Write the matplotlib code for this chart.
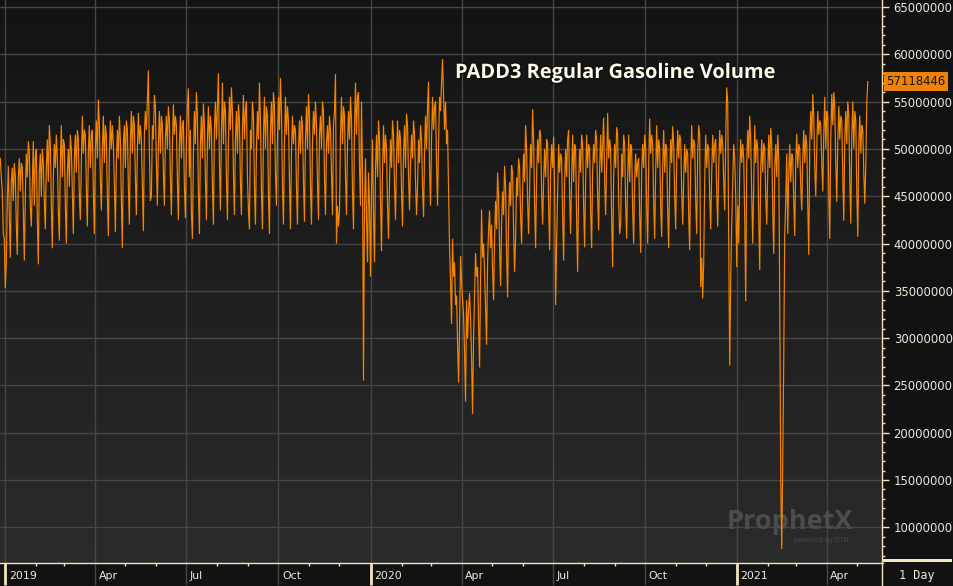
import numpy as np
import pandas as pd
import matplotlib
matplotlib.use("Agg")
import matplotlib.pyplot as plt
import matplotlib.dates as mdates
from matplotlib.ticker import MultipleLocator, FixedLocator, FixedFormatter
from matplotlib.transforms import ScaledTranslation, blended_transform_factory
from matplotlib.colors import LinearSegmentedColormap
import matplotlib.patheffects as pe
from matplotlib.lines import Line2D
from matplotlib.patches import Rectangle

# ---------------- data (daily volume, millions of gallons; one week Mon..Sun per row) ----
start_date = "2018-12-27"

vol_2019 = [
    49.0, 47.0, 45.5, 41.0,
    40.5, 35.3, 38.0, 44.5, 48.2, 43.0, 38.5,
    46.5, 48.0, 44.5, 48.5, 47.0, 42.0, 38.8,
    47.0, 49.0, 45.5, 48.5, 48.0, 43.5, 38.2,
    45.0, 49.5, 47.0, 50.8, 49.5, 44.0, 41.8,
    46.5, 50.8, 44.0, 49.0, 50.0, 42.5, 37.8,
    47.5, 49.5, 45.0, 50.0, 48.5, 44.5, 41.5,
    48.0, 51.0, 46.5, 52.5, 50.5, 44.0, 39.5,
    47.0, 50.5, 48.0, 51.5, 49.0, 43.5, 40.3,
    48.5, 52.5, 47.0, 51.0, 50.5, 44.0, 40.0,
    47.5, 50.0, 46.0, 51.5, 50.0, 45.5, 41.0,
    49.0, 51.5, 47.5, 52.0, 51.0, 45.0, 42.5,
    48.5, 53.5, 49.5, 52.0, 51.5, 46.0, 41.8,
    49.5, 52.5, 48.0, 51.5, 52.0, 45.5, 41.0,
    50.0, 53.0, 49.0, 55.2, 52.5, 47.0, 43.5,
    50.0, 53.5, 48.5, 52.5, 51.5, 45.0, 40.8,
    49.5, 53.0, 50.0, 52.5, 50.5, 46.5, 41.2,
    48.5, 52.0, 49.0, 53.5, 51.0, 44.5, 39.5,
    50.5, 52.5, 48.0, 53.0, 52.0, 46.0, 42.0,
    51.0, 54.0, 49.5, 53.5, 52.5, 47.0, 43.0,
    50.0, 53.8, 50.5, 52.5, 51.0, 46.0, 41.3,
    51.5, 54.0, 52.0, 55.0, 58.3, 49.5, 44.5,
    45.0, 52.5, 51.0, 55.7, 54.5, 48.5, 44.0,
    50.5, 54.0, 49.5, 53.5, 52.5, 47.5, 44.0,
    51.0, 53.5, 50.0, 54.5, 53.0, 47.0, 43.0,
    50.0, 54.7, 51.5, 53.5, 52.5, 46.5, 42.5,
    50.5, 53.5, 49.0, 52.5, 53.0, 46.0, 42.7,
    51.0, 54.5, 56.4, 47.0, 52.0, 43.3, 40.5,
    49.5, 54.0, 50.5, 56.0, 53.5, 45.5, 41.0,
    50.5, 53.5, 49.0, 54.8, 52.5, 47.0, 42.5,
    51.0, 54.5, 50.0, 53.5, 52.0, 46.0, 42.0,
    52.0, 55.0, 51.0, 54.5, 58.0, 48.5, 43.5,
    51.5, 57.0, 50.5, 55.0, 54.0, 47.0, 42.5,
    50.5, 55.5, 52.0, 56.5, 54.0, 47.5, 43.0,
    51.0, 54.0, 49.5, 54.7, 53.0, 46.5, 43.0,
    52.0, 55.7, 51.0, 54.0, 55.0, 47.0, 43.5,
    41.5, 52.0, 50.0, 55.0, 53.5, 46.0, 42.0,
    50.0, 54.0, 51.0, 57.0, 53.0, 45.5, 41.5,
    51.5, 55.5, 50.0, 54.5, 53.5, 45.0, 41.0,
    52.0, 55.0, 50.5, 56.0, 54.5, 47.5, 44.0,
    51.0, 55.5, 52.0, 57.5, 54.0, 46.0, 42.0,
    50.5, 55.5, 51.5, 54.5, 53.0, 46.5, 41.5,
    49.5, 53.5, 50.5, 52.5, 52.0, 46.0, 42.0,
    50.0, 53.0, 49.5, 53.5, 52.5, 46.5, 42.3,
    51.0, 54.5, 50.0, 55.8, 53.5, 46.0, 42.0,
    50.5, 54.0, 51.5, 55.0, 52.5, 46.5, 42.5,
    51.5, 53.5, 50.0, 55.0, 54.0, 47.0, 43.0,
    50.5, 52.5, 49.5, 53.5, 52.0, 47.5, 43.0,
    52.5, 54.0, 57.9, 40.0, 44.0, 41.8, 43.5,
    51.5, 55.5, 50.5, 54.5, 53.5, 47.0, 43.0,
    50.5, 54.0, 51.0, 55.5, 53.0, 45.5, 41.5,
    52.0, 57.0, 51.5, 55.5, 56.0, 48.0, 44.0,
    55.0, 47.5, 25.5, 44.0, 49.0, 42.5, 38.0,
]

vol_2020 = [
    47.5, 44.0, 36.5, 45.5, 51.0, 43.0, 38.0,
    48.0, 51.5, 47.0, 53.0, 51.0, 44.5, 39.2,
    47.5, 52.5, 48.5, 51.5, 50.0, 44.0, 40.5,
    46.5, 51.0, 48.0, 53.0, 51.5, 46.0, 42.5,
    49.0, 53.0, 48.5, 52.0, 51.0, 45.5, 41.8,
    49.5, 52.5, 48.0, 53.7, 52.5, 47.0, 43.5,
    48.5, 51.5, 49.0, 53.0, 51.5, 46.5, 43.0,
    46.0, 51.0, 48.5, 52.5, 51.0, 46.0, 42.8,
    49.5, 53.5, 50.0, 54.5, 57.1, 48.0, 44.0,
    51.0, 55.5, 52.0, 54.5, 55.0, 48.5, 44.0,
    50.5, 55.5, 54.0, 57.0, 59.5, 55.5, 52.0,
    55.0, 50.5, 52.0, 46.0, 39.5, 36.0, 31.5,
    40.5, 36.5, 38.0, 33.5, 34.5, 29.5, 25.3,
    31.0, 38.7, 36.0, 34.0, 32.5, 28.5, 23.3,
    34.0, 30.0, 33.0, 34.8, 32.0, 28.0, 22.0,
    30.0, 34.5, 39.0, 36.5, 37.5, 31.5, 26.9,
    36.0, 43.6, 38.5, 40.0, 37.0, 33.0, 29.3,
    38.0, 41.5, 43.5, 39.5, 42.0, 37.0, 34.0,
    40.5, 44.5, 41.5, 47.5, 45.0, 39.5, 35.5,
    42.0, 45.5, 43.0, 48.2, 46.0, 39.0, 34.3,
    42.5, 46.5, 44.0, 48.3, 47.5, 41.5, 37.0,
    40.5, 47.0, 45.0, 49.0, 48.0, 43.0, 40.0,
    45.5, 49.5, 46.5, 52.5, 50.0, 44.5, 41.0,
    46.0, 50.5, 48.0, 54.2, 51.0, 44.0, 39.5,
    47.0, 51.0, 48.5, 52.0, 51.5, 45.5, 42.0,
    46.5, 50.0, 47.0, 51.0, 50.5, 44.0, 39.3,
    47.5, 50.5, 48.0, 51.3, 46.0, 33.5, 40.0,
    45.0, 50.5, 47.5, 49.5, 49.0, 43.0, 38.2,
    46.5, 50.0, 47.0, 51.0, 52.0, 45.0, 41.0,
    47.0, 51.5, 46.5, 50.5, 50.0, 42.5, 37.0,
    46.0, 50.0, 47.5, 51.5, 50.5, 44.0, 39.6,
    46.5, 51.5, 48.0, 50.5, 50.0, 43.5, 39.5,
    47.5, 50.5, 48.5, 52.0, 51.0, 45.0, 41.4,
    48.0, 51.5, 47.5, 50.5, 53.3, 46.5, 43.0,
    48.5, 53.8, 49.0, 51.0, 50.0, 42.5, 37.5,
    47.0, 50.5, 48.0, 52.3, 51.5, 44.5, 41.0,
    42.0, 49.5, 47.0, 51.5, 50.5, 44.0, 40.5,
    47.0, 51.5, 46.5, 50.5, 50.0, 43.5, 40.0,
    46.5, 49.5, 47.0, 48.5, 49.0, 43.0, 39.0,
    47.5, 50.5, 48.0, 51.5, 50.0, 44.0, 40.0,
    48.0, 53.2, 49.5, 51.5, 50.5, 44.5, 40.5,
    47.5, 52.5, 48.0, 51.0, 50.0, 44.0, 40.7,
    48.0, 52.0, 47.5, 50.5, 50.0, 43.5, 39.5,
    47.0, 51.0, 48.5, 52.4, 50.5, 45.0, 41.5,
    48.5, 52.0, 49.0, 51.5, 51.0, 45.5, 42.0,
    46.5, 50.5, 47.5, 50.0, 49.5, 43.0, 39.3,
    48.0, 52.5, 49.0, 51.0, 50.5, 44.5, 41.0,
    49.5, 52.5, 51.5, 35.4, 38.5, 34.2, 38.0,
    46.5, 51.5, 48.0, 50.5, 50.0, 45.0, 41.5,
    47.5, 51.5, 48.5, 50.5, 51.0, 45.5, 41.8,
    48.0, 52.0, 49.5, 51.5, 50.5, 46.5, 43.5,
    51.0, 56.5, 55.0, 40.0, 27.1, 36.0, 42.0,
]

vol_2021 = [
    46.5, 50.5, 49.0, 45.0, 37.5, 44.0, 40.0,
    47.5, 51.0, 48.5, 50.5, 49.0, 42.5, 33.9,
    48.5, 52.0, 49.0, 53.5, 51.0, 45.0, 40.0,
    46.0, 52.5, 48.5, 51.0, 50.0, 42.5, 37.2,
    48.0, 51.0, 47.5, 50.6, 50.0, 45.0, 42.0,
    47.5, 51.5, 48.0, 52.2, 50.5, 43.5, 38.9,
    48.0, 50.5, 47.0, 51.5, 49.0, 33.9, 14.8,
    7.7, 17.1, 27.9, 41.0, 44.5, 49.5, 41.0,
    47.5, 50.5, 46.5, 49.5, 49.0, 44.5, 40.8,
    48.5, 51.6, 48.0, 50.5, 50.0, 46.0, 43.5,
    49.0, 52.0, 48.5, 51.5, 50.5, 44.0, 38.8,
    50.5, 54.0, 51.0, 55.8, 53.5, 48.0, 45.0,
    50.0, 54.0, 51.5, 53.0, 52.5, 48.5, 45.5,
    51.5, 55.5, 50.0, 54.0, 53.5, 45.5, 40.5,
    51.0, 55.8, 52.5, 56.0, 54.5, 48.5, 44.4,
    50.5, 54.5, 51.0, 53.5, 53.0, 47.0, 42.4,
    51.0, 54.0, 50.5, 55.0, 53.5, 46.5, 42.1,
    51.5, 55.0, 50.0, 54.0, 53.0, 45.5, 40.7,
    50.5, 53.5, 49.5, 52.5, 52.0, 47.5, 44.2,
    48.2, 54.9, 57.118446,
]

title = "PADD3 Regular Gasoline Volume"
x_tick_dates = ["2019-01-01", "2019-04-01", "2019-07-01", "2019-10-01",
                "2020-01-01", "2020-04-01", "2020-07-01", "2020-10-01",
                "2021-01-01", "2021-04-01"]
x_tick_labels = ["2019", "Apr", "Jul", "Oct", "2020", "Apr", "Jul", "Oct", "2021", "Apr"]
y_ticks = [10, 15, 20, 25, 30, 35, 40, 45, 50, 55, 60, 65]   # millions

# ---------------- styling ----------------
W, H = 954, 586
ORANGE = "#f58500"
CREAM = "#f2e6bf"
LABEL = "#ece8da"
GRID = "#464646"
STRIP = "#121212"

values = np.array(vol_2019 + vol_2020 + vol_2021)
dates = pd.date_range(start_date, periods=len(values), freq="D")

fig = plt.figure(figsize=(W / 100, H / 100), dpi=100, facecolor=STRIP)
ax = fig.add_axes([0, 23 / H, 882.5 / W, 563 / H])
ax.set_facecolor("#1c1c1c")

jan1 = mdates.date2num(pd.Timestamp("2019-01-01"))
x0, x1 = jan1 - 5.3, jan1 + 876.7
y0, y1 = 6.23, 65.74

# gradient background
cmap = LinearSegmentedColormap.from_list("bg", ["#2b2b2b", "#131313"])
ax.imshow(np.linspace(0, 1, 256).reshape(-1, 1), extent=(x0, x1, y0, y1),
          origin="lower", aspect="auto", cmap=cmap, zorder=0)

# data line
ax.plot(dates, values, color=ORANGE, lw=0.85, zorder=3, solid_joinstyle="miter")

ax.set_xlim(x0, x1)
ax.set_ylim(y0, y1)

# grid / ticks
tick_nums = [mdates.date2num(pd.Timestamp(d)) for d in x_tick_dates]
ax.xaxis.set_major_locator(FixedLocator(tick_nums))
ax.xaxis.set_major_formatter(FixedFormatter([""] * len(tick_nums)))
ax.xaxis.set_minor_locator(mdates.MonthLocator())
ax.tick_params(axis="x", which="major", length=16, width=1, color=GRID, direction="out")
ax.tick_params(axis="x", which="minor", length=2.5, width=1, color=CREAM, direction="out")
for t, lab in zip(ax.xaxis.get_major_ticks(), x_tick_labels):
    if lab.isdigit():
        t.tick1line.set_markeredgecolor(CREAM)
        t.tick1line.set_markeredgewidth(2)

ax.yaxis.tick_right()
ax.set_yticks(y_ticks)
ax.set_yticklabels([f"{int(v * 1_000_000)}" for v in y_ticks])
ax.yaxis.set_minor_locator(MultipleLocator(1))
ax.tick_params(axis="y", which="major", length=5, width=1, color=CREAM, direction="out",
               pad=3, labelcolor=LABEL, labelsize=8.4)
ax.tick_params(axis="y", which="minor", length=2.2, width=1, color=CREAM, direction="out")
ax.grid(True, which="major", color=GRID, lw=1, zorder=1)
ax.set_axisbelow(True)

for s in ["left", "top"]:
    ax.spines[s].set_visible(False)
for s in ["right", "bottom"]:
    ax.spines[s].set_color(CREAM)
    ax.spines[s].set_linewidth(1)
    ax.spines[s].set_zorder(5)

# x tick labels: left-aligned just right of each tick
xlab_tr = blended_transform_factory(ax.transData, ax.transAxes) + \
    ScaledTranslation(3.5 / 100, -8 / 100, fig.dpi_scale_trans)
for d, lab in zip(tick_nums, x_tick_labels):
    ax.text(d, 0, lab, transform=xlab_tr, ha="left", va="top", color=LABEL,
            fontsize=7.9, clip_on=False)

# last value tag
last = values[-1]
tag_tr = blended_transform_factory(ax.transAxes, ax.transData) + \
    ScaledTranslation(4.0 / 100, 0, fig.dpi_scale_trans)
ax.text(1, last, f"{int(round(last * 1_000_000))}", transform=tag_tr, ha="left", va="center",
        fontsize=8.4, color="#1a1206", clip_on=False, zorder=10,
        bbox=dict(boxstyle="square,pad=0.22", fc="#ee8208", ec="none"))

# title
fig.text(455 / W, 1 - 78 / H, title, ha="left", va="baseline", fontsize=14.4,
         fontweight="bold", family="Open Sans", color="#fffbea", zorder=20,
         path_effects=[pe.withStroke(linewidth=2, foreground="#101010")])

# watermark (below the line)
ax.text(790 / W, 1 - 522 / H, "ProphetX", transform=fig.transFigure, ha="center",
        va="center", fontsize=19.5, fontweight="bold", family="Open Sans",
        color="#4c4c4c", zorder=2)
ax.text(849 / W, 1 - 541 / H, "powered by DTN", transform=fig.transFigure, ha="right",
        va="center", fontsize=5, family="Open Sans", color="#4a4a4a", zorder=2)

# right spine continued through bottom strip, "1 Day" box
fig.add_artist(Line2D([882.5 / W, 882.5 / W], [0, 23 / H], color=CREAM, lw=1))
fig.add_artist(Rectangle((883 / W, (H - 562) / H), 69 / W, 3.5 / H,
                         transform=fig.transFigure, color=CREAM, lw=0))
fig.text(917 / W, 1 - 575 / H, "1 Day", ha="center", va="center", fontsize=8.5,
         family="DejaVu Sans Mono", color=LABEL)

fig.savefig("out.png", dpi=100, facecolor=fig.get_facecolor())
